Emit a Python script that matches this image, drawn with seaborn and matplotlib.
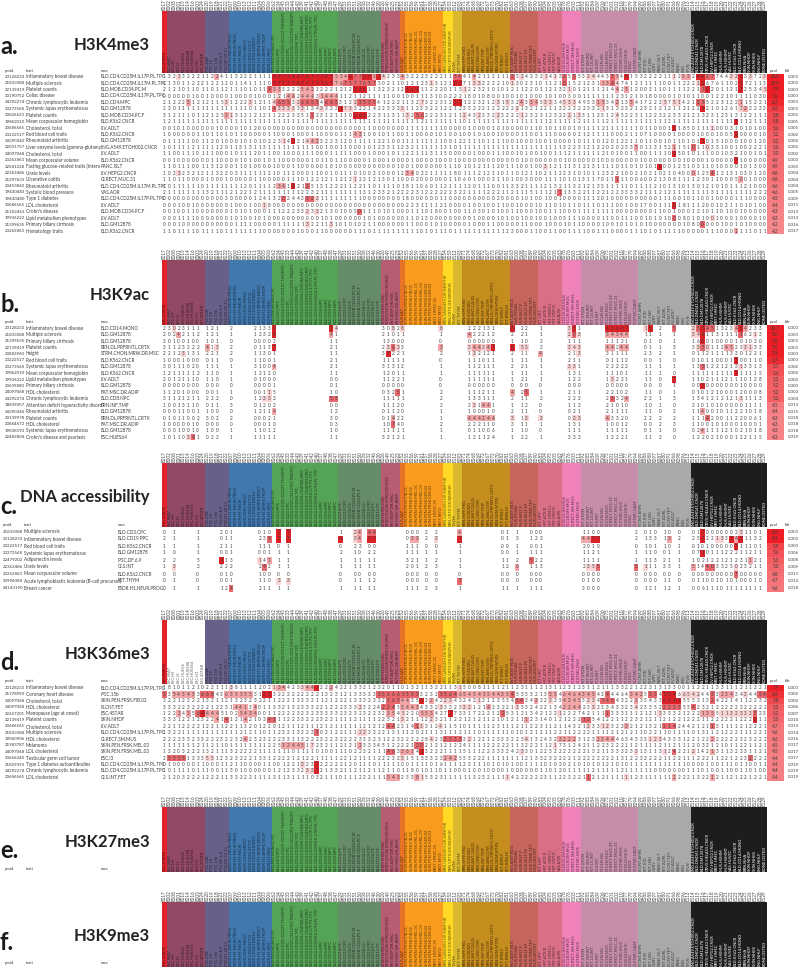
import numpy as np
import pandas as pd
import seaborn as sns
import matplotlib
matplotlib.use("Agg")
import matplotlib.pyplot as plt
from matplotlib.colors import ListedColormap, LinearSegmentedColormap

sns.set_theme(style="white")
plt.rcParams['font.family'] = ['Lato', 'DejaVu Sans']

# epigenome codes and names in chart order
codes = ("E017 E002 E008 E001 E015 E014 E016 E003 E024 E020 E019 E018 E021 E022 E007 E009 E010 E013 E012 E011 "
         "E004 E005 E006 E062 E034 E045 E033 E044 E043 E039 E041 E042 E040 E037 E048 E038 E047 E029 E031 E035 "
         "E051 E050 E036 E032 E046 E030 E026 E049 E025 E023 E052 E055 E056 E059 E061 E057 E058 E028 E027 E054 "
         "E053 E112 E093 E071 E074 E068 E069 E072 E067 E073 E070 E082 E081 E063 E100 E108 E107 E089 E090 E083 "
         "E104 E095 E105 E065 E078 E076 E103 E111 E092 E085 E084 E109 E106 E075 E101 E102 E110 E077 E079 E094 "
         "E099 E086 E088 E097 E087 E080 E091 E066 E098 E096 E113 E114 E115 E116 E117 E118 E119 E120 E121 E122 "
         "E123 E124 E125 E126 E127 E128 E129").split()
names = ("LNG.IMR90 ESC.WA7 ESC.H9 ESC.I3 ESC.HUES6 ESC.HUES48 ESC.HUES64 ESC.H1 ESC.4STAR IPSC.20B IPSC.18 IPSC.15b "
         "IPSC.DF.6.9 IPSC.DF.19.11 ESDR.H1.NEUR.PROG ESDR.H9.NEUR.PROG ESDR.H9.NEUR ESDR.CD56.MESO ESDR.CD56.ECTO "
         "ESDR.CD184.ENDO ESDR.H1.BMP4.MESO ESDR.H1.BMP4.TROP ESDR.H1.MSC BLD.PER.MONUC.PC BLD.CD3.PPC "
         "BLD.CD4.CD25I.CD127.TMEMPC BLD.CD3.CPC BLD.CD4.CD25.CD127M.TREGPC BLD.CD4.CD25M.TPC BLD.CD4.CD25M.CD45RA.NPC "
         "BLD.CD4.CD25M.CD45RO.MPC BLD.CD4.CD25M.IL17P.PL.TPC BLD.CD4.CD25M.IL17M.PL.TPC BLD.CD4.MPC BLD.CD8.MPC "
         "BLD.CD4.NPC BLD.CD8.NPC BLD.CD14.PC BLD.CD19.CPC BLD.CD34.PC BLD.MOB.CD34.PC.M BLD.MOB.CD34.PC.F BLD.CD34.CC "
         "BLD.CD19.PPC BLD.CD56.PC BLD.CD15.PC STRM.MRW.MSC STRM.CHON.MRW.DR.MSC FAT.ADIP.DR.MSC FAT.MSC.DR.ADIP "
         "MUS.SAT SKIN.PEN.FRSK.FIB.01 SKIN.PEN.FRSK.FIB.02 SKIN.PEN.FRSK.MEL.01 SKIN.PEN.FRSK.MEL.03 "
         "SKIN.PEN.FRSK.KER.02 SKIN.PEN.FRSK.KER.03 BRST.HMEC.35 BRST.MYO BRN.GANGEM.DR.NRSPHR BRN.CRTX.DR.NRSPHR THYM "
         "FET.THYM BRN.HIPP.MID BRN.SUB.NIG BRN.ANT.CAUD BRN.CING.GYR BRN.INF.TMP BRN.ANG.GYR BRN.DL.PRFRNTL.CRTX "
         "BRN.GRM.MTRX FET.BRN.F FET.BRN.M FAT.ADIP.NUC MUS.PSOAS MUS.SKLT.F MUS.SKLT.M MUS.TRNK.FET MUS.LEG.FET FET.HRT "
         "HRT.ATR.R HRT.VENT.L HRT.VNT.R VAS.AOR GI.DUO.SM.MUS GI.CLN.SM.MUS GI.RECT.SM.MUS GI.STMC.MUS FET.STOM "
         "FET.SM.INT FET.LG.INT GI.S.INT GI.CLN.SIG GI.CLN.MUC GI.RECT.MUC.29 GI.RECT.MUC.31 GI.STMC.MUC GI.DUO.MUC "
         "GI.ESO GI.STMC.GAST PLCNT.AMN FET.KID FET.LNG OVRY PANC.ISLT FET.ADRL PLCNT.FET LIV.ADLT PANC LNG SPLN "
         "LNG.A549.ETOH002.CNCR BLD.DND41.CNCR BLD.GM12878 CRVX.HELAS3.CNCR LIV.HEPG2.CNCR BRST.HMEC MUS.HSMM MUS.HSMMT "
         "VAS.HUVEC BLD.K562.CNCR BLD.CD14.MONO BRN.NHA SKIN.NHDF SKIN.NHEK LNG.NHLF BONE.OSTEO").split()

group_sizes = [1, 8, 5, 9, 14, 9, 4, 1, 8, 2, 2, 10, 6, 5, 4, 12, 11, 16]
group_colors = ['#E3232A', '#924965', '#69608A', '#4178AE', '#55A354', '#678C69', '#B65C73', '#E67326', '#F99B1D',
                '#FFD924', '#DAB92E', '#C58C1E', '#C5655B', '#D96F86', '#EE82B9', '#C58DAA', '#A9A9A9', '#1F1C1C']

# panel a
a_pmid = "23128233 21833088 22139419 20190752 24292274 23273568 20026623 19862010 20686565 23222517 24390342 22001757 24097068 23263863 22581228 22363486 21297633 20453842 19430483 19430480 20686565 21102463 19936222 21399635 23263863".split()
a_trait = ["Inflammatory bowel disease", "Multiple sclerosis", "Platelet counts", "Celiac disease",
           "Chronic lymphocytic leukemia", "Systemic lupus erythematosus", "Platelet counts",
           "Mean corpuscular hemoglobin", "Cholesterol, total", "Red blood cell traits", "Rheumatoid arthritis",
           "Liver enzyme levels (gamma-glutamy", "Cholesterol, total", "Mean corpuscular volume",
           "Fasting glucose-related traits (Intera", "Urate levels", "Ulcerative colitis", "Rheumatoid arthritis",
           "Systolic blood pressure", "Type 1 diabetes", "LDL cholesterol", "Crohn's disease",
           "Lipid metabolism phenotypes", "Primary biliary cirrhosis", "Hematology traits"]
a_max = ["BLD.CD4.CD25M.IL17P.PL.TPC", "BLD.CD4.CD25M.IL17M.PL.TPC", "BLD.MOB.CD34.PC.M", "BLD.CD4.CD25M.IL17P.PL.TPC",
         "BLD.CD4.MPC", "BLD.GM12878", "BLD.MOB.CD34.PC.F", "BLD.K562.CNCR", "LIV.ADLT", "BLD.K562.CNCR", "BLD.GM12878",
         "LNG.A549.ETOH002.CNCR", "LIV.ADLT", "BLD.K562.CNCR", "PANC.ISLT", "LIV.HEPG2.CNCR", "GI.RECT.MUC.31",
         "BLD.CD4.CD25M.IL17M.PL.TPC", "VAS.AOR", "BLD.CD4.CD25M.IL17P.PL.TPC", "LIV.ADLT", "BLD.MOB.CD34.PC.F",
         "LIV.ADLT", "BLD.GM12878", "BLD.K562.CNCR"]
a_pval = [13.0, 10.0, 7.9, 7.6, 6.7, 6.2, 5.8, 5.8, 5.6, 5.2, 5.2, 5.0, 5.0, 4.9, 4.9, 4.8, 4.8, 4.6, 4.6, 4.5, 4.4, 4.3, 4.3, 4.2, 4.2]
a_fdr = "0.000 0.000 0.000 0.000 0.000 0.000 0.001 0.001 0.001 0.002 0.002 0.002 0.002 0.003 0.003 0.004 0.004 0.004 0.005 0.009 0.011 0.013 0.013 0.016 0.017".split()
a_digits = [
    "1323322211 2241132221 1114675467 6777655546 7767574233 4322232221 1544142112 1112524332 1413253533 4443354315 3222211123 3244277443 2133723",
    "1130112221 2212011411 1107777767 7777677675 7765750211 0121231312 1077133222 2101302310 1121015212 3113447412 1111100112 2212676110 2172113",
    "2121011011 0112111010 1143332225 4232221212 6661132321 2666112220 1131223210 1012112201 1213210121 1121442512 0031101111 2213520112 1725345",
    "0000001001 0000100001 0001214424 4431444112 1121111100 1001113100 2221801080 0100101000 1010030011 1111123121 0180000101 0110012210 1111030",
    "2122251212 1153122231 2114655326 6554665312 2355541222 1132732231 2551223212 3153243345 3334533493 3153421354 1722257514 2115522312 2115221",
    "2301111111 1111111101 1014333333 1343333173 3221422333 3112332212 2123322212 2222213212 2113223223 3213132321 2321212112 1221210126 1322233",
    "3121110112 1253131212 1211222335 1523121110 6662231131 1325622231 2112432332 2322212323 1232221331 1231245223 1122322332 1213231231 3122111",
    "1211111111 1111111111 1111111111 1111111111 1111111111 1111211111 1110111111 1111111111 1211111211 1112111111 1111112111 1111111111 7112111",
    "0010100000 0100001012 0000000000 0000000000 0011000000 0111111110 0000100001 0100000110 1011001011 1121111111 0110001118 5011110003 1010100",
    "1000000110 1101011000 0011000100 0110000111 4310010110 0110000101 0010010100 1000011001 1100000212 1111000211 0710000100 0010001005 2000010",
    "0111110011 2010001010 1022314321 4423223120 1111122100 1111111110 0122111011 1100100010 0100001011 1012012211 0110010110 1011015100 0100120",
    "1011112111 1120113131 1311111111 1100100110 0010123311 2321111113 1011111111 1111111111 1111322312 1220202335 0113152115 1011033100 1002221",
    "1100111011 1000101112 0110010001 1100011111 0001000101 1221113115 0000010001 1100101001 0011121111 1121010011 0011110050 1011100103 2100101",
    "0010000000 1100001010 0101100000 0101101100 0001000100 0010000100 0100000000 0000010000 0000100000 0100000000 1000000001 0000100000 7100000",
    "1101110011 3120011010 0001000110 0000101000 0000000001 0010000001 1101012111 2011100100 3121113121 3111101101 0101200125 1031101000 0101300",
    "1023232121 1322031111 1121011200 0110010111 0100210001 2340221111 1801112121 1011012110 2112231010 1123221002 1021021040 0012541213 1030120",
    "1101100001 0001000001 1000001110 1221211212 1231213011 0002000000 1106010003 1101003000 1111010131 1701111100 6002130811 1123011000 5001000",
    "1011111101 1111111201 1112341421 2513122211 2211011110 1811060112 1111201110 0113321111 2132113212 1331111101 1112101310 1301210101 1121000",
    "2111111113 2111212212 1111111112 2321111111 1131233212 2223122222 2322111122 2112111511 1211133221 1221223333 2111212111 1111131111 1111222",
    "0000000000 0003000001 2413232443 3221111111 1100000000 1800000011 0000000000 2000010100 1001000011 1201000000 0000111001 0110010000 1110000",
    "0001001000 0000100010 0180000000 0000000000 0000000000 0223111121 0000100100 1100100010 1101011011 1011100100 1700111018 1112001021 1010100",
    "0010011000 0000101010 0011122233 2332130100 5011101010 0011101800 1001103010 1001100010 0111000111 1111100000 0001100100 0121011010 0100000",
    "0001111000 0000101001 0100000000 0001010000 0010100000 0110130000 0000010000 1010010010 0100311100 0011001110 0101010008 0101001000 1000010",
    "0001000000 0000011110 0000111111 3221131010 1021100000 0110001010 0000100011 0000011000 1000101100 0010010101 0100000001 0800000100 1010000",
    "1101111011 1101111111 1000000010 0011000000 1110111111 1111010111 0111111111 1123000110 0110011110 0111000011 1010111110 0000111000 1111011",
]
a_hot = [
    [(3, 3, 1), (11, 11, 2), (23, 35, 4), (36, 38, 2), (39, 39, 4), (40, 41, 3), (42, 43, 4), (44, 44, 2), (45, 45, 4), (46, 46, 1), (50, 50, 2), (61, 62, 3), (65, 65, 2), (73, 73, 3), (75, 75, 1), (80, 80, 1), (82, 82, 1), (84, 84, 3), (86, 86, 3), (89, 90, 1), (94, 94, 3), (95, 95, 2), (97, 97, 4), (107, 107, 1), (109, 110, 2), (112, 113, 4), (114, 115, 3), (119, 120, 1), (121, 121, 4), (123, 123, 1), (126, 126, 1)],
    [(23, 35, 4), (36, 37, 2), (38, 42, 3), (43, 44, 3), (56, 56, 1), (61, 62, 4), (65, 66, 1), (73, 73, 1), (84, 84, 3), (92, 93, 2), (94, 94, 3), (95, 95, 1), (112, 112, 1), (113, 113, 4), (121, 121, 4)],
    [(22, 22, 3), (23, 24, 2), (29, 31, 2), (40, 42, 4), (51, 53, 4), (63, 63, 1), (85, 85, 1), (95, 95, 2), (97, 97, 2), (113, 113, 3), (114, 114, 4), (121, 121, 4), (126, 126, 1)],
    [(24, 24, 1), (26, 27, 2), (29, 31, 2), (33, 36, 2)],
    [(5, 5, 2), (13, 13, 1), (18, 18, 1), (23, 23, 1), (24, 26, 3), (28, 28, 1), (29, 32, 3), (34, 36, 3), (40, 40, 1), (41, 44, 3), (54, 54, 1), (61, 62, 4), (70, 70, 1), (72, 72, 1), (75, 75, 2), (77, 78, 2), (80, 81, 1), (84, 86, 1), (91, 92, 2), (95, 95, 2), (98, 98, 2), (105, 105, 1), (107, 108, 1), (112, 113, 3), (121, 121, 2)],
    [(23, 23, 3), (24, 27, 1), (29, 29, 1), (33, 33, 1), (37, 37, 4), (38, 39, 1), (50, 50, 1), (74, 74, 1), (92, 92, 1), (113, 113, 4), (121, 121, 1), (122, 122, 2)],
    [(13, 13, 2), (14, 14, 1), (31, 31, 3), (40, 42, 4), (51, 51, 1), (53, 54, 3), (63, 63, 1), (66, 66, 1), (70, 70, 1), (75, 75, 1), (85, 85, 1), (87, 87, 1), (95, 95, 1)],
    [(120, 120, 4)],
    [(107, 107, 4), (115, 115, 1)],
    [(40, 41, 2), (120, 120, 4)],
    [(25, 25, 1), (27, 27, 4), (30, 30, 1), (31, 32, 2), (113, 113, 4)],
    [(99, 99, 2), (107, 107, 2), (111, 111, 3), (114, 114, 1)],
    [(107, 107, 4)],
    [(120, 120, 4)],
    [(80, 80, 1), (104, 104, 4)],
    [(3, 3, 1), (51, 52, 2), (111, 111, 2), (115, 115, 3)],
    [(40, 40, 1), (95, 95, 3), (121, 121, 2)],
    [(24, 25, 2), (27, 27, 4), (30, 30, 3)],
    [(83, 83, 3)],
    [(25, 25, 3), (30, 31, 3), (32, 32, 1)],
    [(21, 21, 1), (107, 107, 4)],
    [(30, 30, 1), (32, 32, 1), (41, 41, 3)],
    [(107, 107, 3), (115, 115, 1)],
    [(30, 30, 1), (35, 35, 1), (113, 113, 3)],
    [(120, 120, 2)],
]

# panel b, columns with data only
b_cols = list(range(0, 8)) + [9, 10, 11, 14] + list(range(19, 24)) + [35, 36, 46, 47, 48, 49, 50, 58] + list(range(64, 70)) + [73, 75, 76, 79, 85, 86, 87, 93, 94, 95, 96, 97, 101, 102, 104, 107] + list(range(111, 126))
b_pmid = "23128233 21833088 21399635 22139419 20883960 23222517 23273568 19862010 19936222 20639880 24097068 24292274 18839057 24390342 20139978 20864672 19838193 22482804".split()
b_trait = ["Inflammatory bowel disease", "Multiple sclerosis", "Primary biliary cirrhosis", "Platelet counts", "Height",
           "Red blood cell traits", "Systemic lupus erythematosus", "Mean corpuscular hemoglobin",
           "Lipid metabolism phenotypes", "Primary biliary cirrhosis", "HDL cholesterol",
           "Chronic lymphocytic leukemia", "Attention deficit hyperactivity disord", "Rheumatoid arthritis",
           "Platelet counts", "HDL cholesterol", "Systemic lupus erythematosus", "Crohn's disease and psoriasis"]
b_max = ["BLD.CD14.MONO", "BLD.GM12878", "BLD.GM12878", "BRN.DL.PRFRNTL.CRTX", "STRM.CHON.MRW.DR.MSC", "BLD.K562.CNCR",
         "BLD.GM12878", "BLD.K562.CNCR", "LIV.ADLT", "BLD.GM12878", "FAT.MSC.DR.ADIP", "BLD.CD8.NPC", "BRN.INF.TMP",
         "BLD.GM12878", "BRN.DL.PRFRNTL.CRTX", "FAT.MSC.DR.ADIP", "BLD.GM12878", "ESC.HUES64"]
b_pval = [10.7, 9.6, 7.8, 7.6, 7.4, 6.7, 5.7, 5.6, 5.3, 5.2, 5.2, 5.2, 4.5, 4.4, 4.3, 4.3, 4.3, 4.3]
b_fdr = "0.000 0.000 0.000 0.000 0.000 0.000 0.002 0.002 0.003 0.003 0.003 0.004 0.013 0.015 0.018 0.018 0.018 0.019".split()
b_digits = [
    "23023111 121 2 21339 34 3082 8 8 222131 6 22 1 351 66667 15 2 5 255451323454233",
    "20242112 121 1 12328 41 2101 1 1 422212 2 21 1 253 54344 11 1 1 346113111116213",
    "30100100 101 0 00002 11 1300 0 0 000000 1 10 2 111 11121 01 0 1 160010000101020",
    "31123222 413 2 01137 21 2363 3 3 344347 6 53 2 343 44244 01 1 3 335011245233133",
    "22123131 221 2 11301 11 3722 1 2 132121 2 11 4 213 31111 23 2 1 011211113301221",
    "10001000 011 0 11001 21 1111 1 0 111011 1 11 1 211 01112 00 1 0 010110001700110",
    "30111020 111 1 31004 21 3131 2 1 112111 2 21 1 331 22222 11 1 1 135122121313313",
    "12111112 110 1 12120 11 1201 1 1 111111 1 11 1 131 11101 11 1 0 111111111711115",
    "20121110 110 1 01000 00 1122 1 0 111111 1 21 1 122 13221 11 0 7 110211121110128",
    "00000000 000 0 00001 01 0000 0 0 000000 0 00 0 000 00000 00 0 1 005000000010000",
    "11201000 001 1 00115 10 0325 1 2 111211 4 25 1 211 22102 11 0 1 010121000120008",
    "31121211 222 0 12332 55 1111 1 2 133111 2 11 2 222 25324 22 1 3 134121212131113",
    "10013110 011 3 01202 00 1112 0 2 231441 1 12 0 112 21010 10 1 0 210101000001111",
    "00011001 100 0 12114 12 0112 0 1 100010 2 11 0 021 21111 11 0 2 114001011221018",
    "01011002 302 2 00021 30 0142 2 1 444244 3 13 3 033 43320 22 2 2 111420011220061",
    "10000010 000 0 00010 03 1074 0 2 222110 3 11 1 131 10012 00 2 3 110010100010001",
    "00010010 100 1 11012 10 1111 1 1 011006 1 10 0 111 11111 01 1 0 024111121021018",
    "10110341 022 1 11111 11 3212 1 1 121124 1 22 1 333 12221 11 2 0 122021000122115",
]
b_hot = [
    [(2, 2, 1), (23, 23, 4), (35, 35, 4), (36, 36, 1), (48, 48, 1), (50, 50, 1), (58, 58, 1), (73, 73, 4), (85, 85, 1), (86, 86, 4), (93, 97, 4), (101, 101, 1), (102, 102, 4), (107, 107, 3), (111, 111, 1), (112, 112, 3), (113, 113, 4), (114, 115, 3), (120, 120, 2), (121, 121, 4), (122, 122, 2)],
    [(3, 3, 2), (23, 23, 4), (35, 35, 2), (64, 64, 2), (85, 85, 1), (86, 86, 3), (87, 87, 1), (93, 97, 2), (111, 112, 1), (113, 113, 4), (121, 121, 3), (124, 124, 1)],
    [(113, 113, 4)],
    [(9, 9, 2), (11, 11, 1), (23, 23, 4), (47, 47, 1), (48, 48, 3), (49, 49, 1), (58, 58, 2), (64, 64, 1), (65, 66, 2), (67, 67, 1), (68, 68, 2), (69, 69, 4), (73, 73, 4), (75, 76, 1), (85, 87, 1), (93, 94, 2), (96, 97, 2), (112, 112, 1), (113, 113, 3), (114, 114, 1), (118, 119, 2), (122, 123, 1)],
    [(4, 4, 1), (47, 47, 4), (65, 65, 1), (79, 79, 2), (87, 87, 1)],
    [(120, 120, 4)],
    [(23, 23, 2), (85, 86, 1), (113, 113, 3), (121, 121, 1)],
    [(120, 120, 4)],
    [(94, 94, 1), (107, 107, 4)],
    [(113, 113, 4)],
    [(22, 22, 1), (49, 49, 3), (73, 73, 2), (76, 76, 3)],
    [(21, 22, 1), (35, 36, 3), (94, 94, 3), (97, 97, 2), (121, 121, 1)],
    [(65, 65, 1), (67, 68, 2)],
    [(23, 23, 2), (113, 113, 2)],
    [(48, 48, 2), (64, 69, 2), (73, 73, 1), (76, 76, 1), (79, 79, 1), (86, 87, 1), (93, 93, 2), (114, 114, 3)],
    [(48, 48, 3)],
    [(113, 113, 2)],
    [(5, 5, 1), (6, 6, 3)],
]

# panel c
c_cols = [0, 2, 7, 12, 13, 14, 20, 21, 22, 24, 26, 37, 40, 41, 43, 44, 51, 52, 53, 55, 57, 62, 71, 72, 74, 77, 78, 79, 88, 89, 90, 91, 99, 101, 102, 103, 105, 106, 108] + list(range(111, 126))
c_pmid = "21833088 23128233 23222517 23273568 22479202 22363486 23263863 23996088 24143190".split()
c_trait = ["Multiple sclerosis", "Inflammatory bowel disease", "Red blood cell traits", "Systemic lupus erythematosus",
           "Adiponectin levels", "Urate levels", "Mean corpuscular volume",
           "Acute lymphoblastic leukemia (B-cell precursor)", "Breast cancer"]
c_max = ["BLD.CD3.CPC", "BLD.CD19.PPC", "BLD.K562.CNCR", "BLD.GM12878", "IPSC.DF.6.9", "GI.S.INT", "BLD.K562.CNCR", "FET.THYM", "ESDR.H1.NEUR.PROG"]
c_pval = [8.6, 8.4, 5.9, 5.6, 5.3, 5.0, 4.8, 4.7, 4.6]
c_fdr = "0.000 0.000 0.000 0.006 0.008 0.009 0.011 0.012 0.018".split()
c_digits = [
    "0112010107712444 00022401100011002010100 017000000231101",
    "2110112357763457 03323701312344772133132 253221337471132",
    "1112111110102300 11100100100120100101101 010100000711101",
    "1010010011121022 11111100111111211110011 071011122211211",
    "2251131411111111 32112111252211111113211 102122121231121",
    "1322222421111111 20123112611323553111331 514403325023211",
    "0000101000000000 00000000000000000000000 000000000700000",
    "0100011103301112 00000700000001000000110 011001010100010",
    "0111242111111111 11123111111130000121121 006111011111111",
]
c_hot = [
    [(24, 24, 4), (26, 26, 4), (40, 40, 1), (41, 41, 2), (43, 44, 3), (62, 62, 2), (113, 113, 4), (121, 121, 1)],
    [(22, 22, 3), (24, 24, 4), (26, 26, 4), (37, 37, 4), (40, 40, 1), (41, 41, 2), (43, 44, 4), (52, 53, 2), (57, 57, 1), (62, 62, 4), (88, 89, 2), (90, 91, 4), (106, 106, 2), (113, 113, 4), (116, 117, 1), (119, 119, 4), (120, 120, 2), (121, 121, 4)],
    [(120, 120, 4)],
    [(113, 113, 4)],
    [(12, 12, 4), (20, 20, 1), (22, 22, 2), (77, 77, 3), (123, 123, 2)],
    [(2, 2, 1), (21, 21, 3), (74, 74, 2), (89, 90, 1), (91, 91, 3), (99, 99, 3), (101, 101, 1), (111, 111, 2), (114, 115, 3), (120, 120, 1)],
    [(120, 120, 3)],
    [(24, 24, 1), (26, 26, 1), (62, 62, 3)],
    [(14, 14, 3)],
]

# panel d
d_pmid = "23128233 21378990 24097068 24097068 22267201 22139419 20686565 21833088 19060906 21983787 24097068 23666240 21829393 24292274 20686565".split()
d_trait = ["Inflammatory bowel disease", "Coronary heart disease", "Cholesterol, total", "HDL cholesterol",
           "Menopause (age at onset)", "Platelet counts", "Cholesterol, total", "Multiple sclerosis", "HDL cholesterol",
           "Melanoma", "LDL cholesterol", "Testicular germ cell tumor", "Type 1 diabetes autoantibodies",
           "Chronic lymphocytic leukemia", "LDL cholesterol"]
d_max = ["BLD.CD4.CD25M.IL17P.PL.TPC", "IPSC.15b", "SKIN.PEN.FRSK.FIB.02", "PLCNT.FET", "ESC.4STAR", "SKIN.NHDF", "LIV.ADLT",
         "BLD.CD4.CD25M.IL17P.PL.TPC", "GI.RECT.SM.MUS", "SKIN.PEN.FRSK.MEL.03", "SKIN.PEN.FRSK.MEL.03", "ESC.I3",
         "BLD.CD4.CD25M.IL17P.PL.TPC", "BLD.CD4.CD25M.IL17P.PL.TPC", "GI.S.INT.FET"]
d_pval = [7.9, 6.5, 5.8, 5.3, 5.2, 5.0, 4.7, 4.6, 4.6, 4.5, 4.5, 4.4, 4.4, 4.4, 4.4]
d_fdr = "0.000 0.002 0.003 0.006 0.007 0.010 0.013 0.014 0.016 0.017 0.017 0.017 0.019 0.019 0.019".split()
d_digits = [
    "1810112102 2111381111 2021344233 4472224221 3321232011 0132113221 1315008111 1211231112 1311231231 1211133221 2231313300 1122113311 1211221222 2222221",
    "5354545366 6436555553 1553222222 2221323121 3333335666 5555323255 6465454554 4354535321 3554646434 5434446434 2533455466 5424433234 3434434232 2332444",
    "3221232213 2112132323 2211222133 3211212221 3332332565 4435332422 3432421212 3554543432 2335434532 3454643223 3543322455 5531324221 4112232311 1222113",
    "3332232222 1223144134 0113321323 3322122233 3232242245 3443433233 3233212142 3221353242 2134224423 3233433234 2335222555 5423212222 2322222232 2222221",
    "1223435644 4451025434 0011222232 3233333232 3232232354 5220553427 2733172221 2253121342 1221222742 1111333111 2121333321 2221355113 2332323222 2442116",
    "3331221232 2414121421 0342112233 2223221111 2111122321 3211122321 1221212112 1012111231 4012122212 5412211223 2121121221 2221122222 1222211212 2242221",
    "2211222212 2112211320 1220121112 1112121111 1121212442 3141331241 1510111112 3111211223 1121143212 3312323321 2132121424 4212113111 1212221121 1122111",
    "1322111111 1111112121 1011232132 2350212211 1223322131 1120211131 1121110111 1110101212 1122112222 1111212121 1022110111 1013112122 2111221221 2111121",
    "2222332332 2232232423 2322233113 2223223222 2333231223 2222284233 5353212212 3332234132 4323222312 3234446343 3312343331 2212222222 2323222321 2222121",
    "1111111211 2110111111 1122533445 1723211212 1233345122 2212021212 1224111122 2221132221 1217312421 1223222112 1111211211 1203212101 1221121123 2222111",
    "1320322213 2111322222 1111111011 1101001110 2232111463 3614132221 1115111223 3324233012 2322222221 3211333233 1311312422 1214213113 2331121122 1111121",
    "2555513335 5123232221 3312222121 2211111221 2111122232 3151533232 4255322211 1111112133 2322221222 2222213122 3222211221 1122211221 2232222421 1122223",
    "0100000110 0011211000 0110012213 2372222212 0111011111 0011110161 1112311101 0101001111 0103021010 1012101011 1111111111 0000100111 0110011000 0110100",
    "1011110111 0011301000 0001212332 3372133211 2112112110 1180101101 1000100100 0010000001 1012011111 2111112111 1110000000 1110100110 0110100000 1100011",
    "2120322212 2211332221 1113113111 1032111011 1222111343 2338153231 1111132321 1114222222 3112232211 2121111112 3111111222 2132212112 1221221121 1232122",
]
d_hot = [
    [(14, 14, 1), (23, 23, 1), (24, 25, 2), (29, 29, 1), (30, 31, 2), (32, 32, 4), (35, 35, 2), (62, 62, 1)],
    [(0, 0, 3), (2, 6, 2), (8, 10, 3), (13, 18, 2), (21, 22, 4), (45, 49, 3), (50, 53, 3), (58, 61, 3), (62, 72, 2), (73, 73, 3), (81, 82, 2), (84, 90, 2), (93, 93, 3), (98, 100, 2), (102, 103, 3), (105, 107, 4), (109, 112, 1), (115, 115, 3), (117, 119, 2), (122, 122, 1), (125, 126, 3)],
    [(47, 49, 3), (50, 51, 2), (54, 54, 4), (56, 56, 2), (59, 60, 1), (66, 66, 1), (74, 75, 3), (78, 78, 2), (81, 81, 1), (84, 87, 2), (89, 90, 1), (92, 94, 3), (99, 99, 2), (105, 108, 4), (115, 115, 3)],
    [(15, 17, 2), (19, 19, 2), (41, 41, 1), (46, 48, 3), (50, 53, 2), (58, 58, 1), (63, 64, 1), (68, 68, 2), (74, 74, 1), (84, 87, 2), (90, 90, 1), (99, 99, 1), (105, 108, 3), (111, 111, 3)],
    [(3, 3, 2), (5, 5, 2), (7, 7, 3), (8, 8, 4), (9, 11, 2), (16, 19, 2), (47, 48, 2), (50, 50, 1), (54, 56, 2), (60, 60, 4), (71, 71, 3), (83, 83, 1), (93, 93, 3), (104, 104, 1), (113, 115, 2), (117, 123, 1), (124, 124, 3)],
    [(11, 11, 2), (13, 13, 3), (17, 17, 2), (22, 23, 3), (50, 50, 1), (56, 56, 1), (76, 76, 2), (88, 89, 3), (124, 124, 4)],
    [(47, 48, 3), (53, 53, 3), (54, 54, 1), (58, 58, 1), (89, 89, 1), (92, 93, 1), (97, 97, 2), (105, 107, 3), (115, 115, 3)],
    [(32, 32, 3), (41, 42, 1)],
    [(17, 17, 2), (56, 56, 1), (59, 62, 3), (64, 64, 1), (76, 76, 1), (83, 86, 2), (91, 94, 2), (102, 104, 1), (115, 115, 2)],
    [(25, 29, 2), (31, 31, 1), (41, 41, 2), (53, 54, 3), (82, 82, 1)],
    [(47, 48, 3), (50, 52, 2), (54, 54, 4), (75, 75, 1), (99, 99, 1), (105, 105, 1), (107, 107, 3), (111, 111, 1), (115, 115, 2)],
    [(1, 4, 3), (9, 10, 1), (50, 50, 1), (59, 61, 2), (123, 123, 3)],
    [(29, 29, 1), (32, 32, 4)],
    [(32, 32, 4), (30, 31, 1)],
    [(47, 49, 2), (53, 53, 2), (54, 54, 1), (72, 72, 1), (89, 89, 3), (97, 97, 1), (107, 107, 2), (115, 115, 2)],
]

level_colors = ['#FFFFFF', '#FBD5D5', '#F5A6A8', '#E9686E', '#DE2027']
pval_cmap = LinearSegmentedColormap.from_list('pv', ['#FFFFFF', '#EE1E26'])
text_col = '#3C3C3C'

group_idx = np.repeat(np.arange(len(group_sizes)), group_sizes)

fig = plt.figure(figsize=(8, 9.67), dpi=100)


def px_axes(x0, y0, x1, y1):
    return fig.add_axes([x0 / 800, 1 - y1 / 967, (x1 - x0) / 800, (y1 - y0) / 967])


def header_band(top, bottom, colors):
    ax = px_axes(162, top, 767, bottom)
    sns.heatmap(np.array([group_idx]), cmap=ListedColormap(colors), vmin=-0.5, vmax=len(colors) - 0.5, cbar=False,
                xticklabels=codes, yticklabels=False, ax=ax)
    ax.xaxis.tick_top()
    ax.tick_params(axis='x', length=0, pad=0.6, labelsize=3.3, labelrotation=90, labelcolor='#444444')
    ax.set_xlabel('')
    for i, name in enumerate(names):
        c = colors[group_idx[i]]
        rgb = np.array(matplotlib.colors.to_rgb(c))
        tc = 'white' if rgb.sum() < 0.4 else rgb * 0.38
        ax.text(i + 0.5, 0.99, name, rotation=90, ha='center', va='bottom', fontsize=2.9, color=tc, clip_on=True)


def table_rows(rows_top, step, digits, hot, cols, pval, fdr):
    n = len(digits)
    values = pd.DataFrame(np.zeros((n, 127)))
    text = np.full((n, 127), '', dtype=object)
    m = len(cols)
    for r in range(n):
        row = (digits[r].replace(' ', '') + '0' * m)[:m]
        values.iloc[r, :] = np.nan
        for j, c in enumerate(cols):
            values.iloc[r, c] = 0
            text[r, c] = row[j]
        for start, end, level in hot[r]:
            for c in range(start, end + 1):
                if c in cols:
                    values.iloc[r, c] = level
    bottom = rows_top + n * step
    ax = px_axes(162, rows_top, 767, bottom)
    sns.heatmap(values, annot=text, fmt='', cmap=ListedColormap(level_colors), vmin=-0.5, vmax=4.5, cbar=False,
                xticklabels=False, yticklabels=False, annot_kws={'fontsize': 3.3, 'color': text_col}, ax=ax)
    ax.set_facecolor('white')
    ax2 = px_axes(767, rows_top, 784, bottom)
    sns.heatmap(pd.DataFrame({'pval': pval}), annot=True, fmt='.1f', cmap=pval_cmap, vmin=1, vmax=7, cbar=False,
                xticklabels=False, yticklabels=False, annot_kws={'fontsize': 3.3, 'color': text_col}, ax=ax2)


overlay = fig.add_axes([0, 0, 1, 1], zorder=5)
overlay.set_xlim(0, 800)
overlay.set_ylim(967, 0)
overlay.axis('off')


def left_text(y0, step, pmid, trait, mx, fdr, x_trait=26, x_max=101, x_pmid=5):
    for i in range(len(pmid)):
        y = y0 + i * step
        overlay.text(x_pmid, y, pmid[i], fontsize=3.2, color=text_col, va='center')
        overlay.text(x_trait, y, trait[i], fontsize=3.3, color=text_col, va='center')
        overlay.text(x_max, y, mx[i], fontsize=3.3, color=text_col, va='center')
        overlay.text(788, y, fdr[i], fontsize=3.2, color=text_col, va='center')


def col_heads(y, x_trait=26, x_max=101, x_pmid=5, tail=True):
    overlay.text(x_pmid, y, 'pmid', fontsize=3.2, color=text_col, va='center')
    overlay.text(x_trait, y, 'trait', fontsize=3.2, color=text_col, va='center')
    overlay.text(x_max, y, 'max', fontsize=3.2, color=text_col, va='center')
    if tail:
        overlay.text(770, y, 'pval', fontsize=3.2, color=text_col, va='center')
        overlay.text(785, y, 'fdr', fontsize=3.2, color=text_col, va='center')


def titles(letter, ly, title, ty):
    overlay.text(0, ly, letter, fontsize=17, fontweight='bold', color='#1A1A1A', va='center')
    overlay.text(150, ty, title, fontsize=12, fontweight='bold', color='#222222', va='center', ha='right')


all_cols = list(range(127))
d_colors = list(group_colors)
d_colors[1] = '#FFFFFF'

# a
header_band(10.5, 72.5, group_colors)
table_rows(73.5, 6.43, a_digits, a_hot, all_cols, a_pval, a_fdr)
col_heads(70.7)
left_text(76.7, 6.43, a_pmid, a_trait, a_max, a_fdr)
titles('a.', 47, 'H3K4me3', 45)

# b
header_band(260, 325, group_colors)
table_rows(325.1, 6.41, b_digits, b_hot, b_cols, b_pval, b_fdr)
col_heads(321.7)
left_text(328.3, 6.41, b_pmid, b_trait, b_max, b_fdr)
titles('b.', 304, 'H3K9ac', 295)

# c
header_band(463, 527, group_colors)
table_rows(528.5, 7.0, c_digits, c_hot, c_cols, c_pval, c_fdr)
col_heads(524.7, x_trait=24, x_max=118, x_pmid=3)
left_text(532, 7.0, c_pmid, c_trait, c_max, c_fdr, x_trait=24, x_max=118, x_pmid=3)
titles('c.', 507, 'DNA accessibility', 497)

# d
header_band(620, 684, d_colors)
table_rows(684.8, 6.38, d_digits, d_hot, all_cols, d_pval, d_fdr)
col_heads(681)
left_text(688, 6.38, d_pmid, d_trait, d_max, d_fdr)
titles('d.', 662, 'H3K36me3', 654)

# e and f have no rows
header_band(807, 872, group_colors)
col_heads(869, tail=False)
titles('e.', 850, 'H3K27me3', 842)

header_band(902, 967, group_colors)
col_heads(963, tail=False)
titles('f.', 942, 'H3K9me3', 936)

fig.savefig('out.png', dpi=100)
